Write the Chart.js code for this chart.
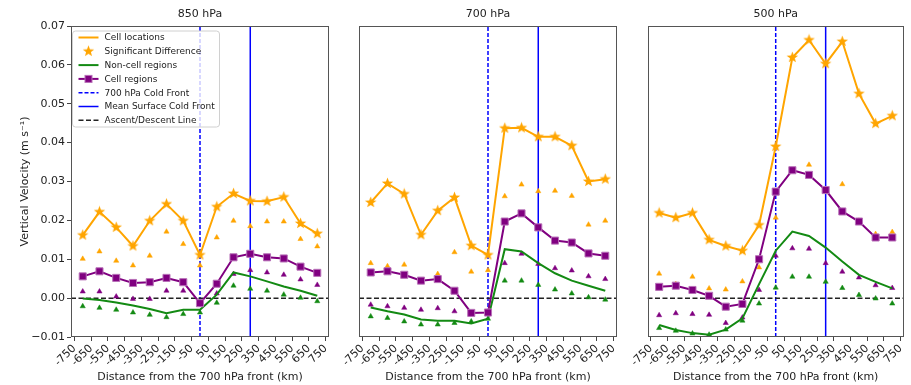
<!DOCTYPE html>
<html>
<head>
<meta charset="utf-8">
<script src="https://cdn.jsdelivr.net/npm/chart.js@4.4.1/dist/chart.umd.min.js"></script>
<style>
  body { margin: 0; background: #fff; }
  #wrap { position: relative; width: 911px; height: 385px; }
  #wrap canvas { position: absolute; left: 0; top: 0; }
</style>
</head>
<body>
<div id="wrap">
  <canvas id="p850" width="911" height="385"></canvas>
  <canvas id="p700" width="911" height="385"></canvas>
  <canvas id="p500" width="911" height="385"></canvas>
</div>
<script>
// Bin centres (km from the 700 hPa front)
const distances = [-700, -600, -500, -400, -300, -200, -100, 0, 100, 200, 300, 400, 500, 600, 700];
const xTicks = [-750, -650, -550, -450, -350, -250, -150, -50, 50, 150, 250, 350, 450, 550, 650, 750];
const yTicks = [-0.01, 0.00, 0.01, 0.02, 0.03, 0.04, 0.05, 0.06, 0.07];
const xMin = -770, xMax = 770;
const yMin = -0.01, yMax = 0.07;

// Reference lines
const coldFront700 = 0;
const surfaceFront = 300;
const ascentLevel = 0;

// 850 hPa
const cell850 = [0.0162, 0.0222, 0.0182, 0.0134, 0.0199, 0.0242, 0.0199, 0.0111, 0.0235, 0.0269, 0.0250, 0.0249, 0.0260, 0.0192, 0.0166];
const cellTri850 = [0.0101, 0.0120, 0.0096, 0.0084, 0.0109, 0.0171, 0.0139, 0.0084, 0.0156, 0.0199, 0.0185, 0.0197, 0.0197, 0.0152, 0.0133];
const region850 = [0.0056, 0.0069, 0.0052, 0.0039, 0.0041, 0.0052, 0.0041, -0.0013, 0.0037, 0.0105, 0.0114, 0.0105, 0.0102, 0.0081, 0.0065];
const regionTri850 = [0.0017, 0.0017, 0.0004, -0.0002, -0.0002, 0.0019, 0.0019, -0.0010, 0.0012, 0.0062, 0.0072, 0.0066, 0.0060, 0.0048, 0.0034];
const nonCell850 = [-0.0001, -0.0005, -0.0011, -0.0019, -0.0028, -0.0039, -0.0030, -0.0030, 0.0009, 0.0066, 0.0056, 0.0043, 0.0030, 0.0019, 0.0006];
const nonCellTri850 = [-0.0021, -0.0025, -0.0030, -0.0037, -0.0043, -0.0049, -0.0041, -0.0037, -0.0012, 0.0032, 0.0024, 0.0019, 0.0009, 0.0001, -0.0008];

// 700 hPa
const cell700 = [0.0246, 0.0295, 0.0268, 0.0163, 0.0225, 0.0259, 0.0135, 0.0111, 0.0437, 0.0438, 0.0415, 0.0415, 0.0392, 0.0300, 0.0306];
const cellTri700 = [0.0090, 0.0082, 0.0086, 0.0045, 0.0062, 0.0118, 0.0068, 0.0072, 0.0262, 0.0292, 0.0275, 0.0276, 0.0263, 0.0189, 0.0199];
const region700 = [0.0066, 0.0069, 0.0060, 0.0045, 0.0049, 0.0019, -0.0038, -0.0037, 0.0197, 0.0218, 0.0182, 0.0148, 0.0143, 0.0115, 0.0109];
const regionTri700 = [-0.0017, -0.0021, -0.0025, -0.0030, -0.0026, -0.0034, -0.0040, -0.0040, 0.0090, 0.0114, 0.0088, 0.0077, 0.0071, 0.0056, 0.0049];
const nonCell700 = [-0.0024, -0.0034, -0.0042, -0.0055, -0.0058, -0.0058, -0.0065, -0.0053, 0.0126, 0.0120, 0.0090, 0.0064, 0.0045, 0.0032, 0.0019];
const nonCellTri700 = [-0.0047, -0.0051, -0.0060, -0.0068, -0.0068, -0.0064, -0.0060, -0.0053, 0.0045, 0.0045, 0.0034, 0.0022, 0.0012, 0.0002, -0.0004];

// 500 hPa
const cell500 = [0.0219, 0.0207, 0.0219, 0.0150, 0.0134, 0.0122, 0.0188, 0.0390, 0.0619, 0.0664, 0.0603, 0.0660, 0.0526, 0.0449, 0.0469];
const cellTri500 = [0.0063, 0.0036, 0.0055, 0.0025, 0.0022, 0.0043, 0.0079, 0.0207, 0.0327, 0.0343, 0.0280, 0.0293, 0.0199, 0.0165, 0.0170];
const region500 = [0.0029, 0.0032, 0.0021, 0.0006, -0.0022, -0.0015, 0.0100, 0.0274, 0.0329, 0.0317, 0.0278, 0.0223, 0.0197, 0.0156, 0.0156];
const regionTri500 = [-0.0044, -0.0039, -0.0041, -0.0043, -0.0064, -0.0050, 0.0021, 0.0109, 0.0128, 0.0127, 0.0090, 0.0068, 0.0053, 0.0033, 0.0026];
const nonCell500 = [-0.0069, -0.0082, -0.0090, -0.0094, -0.0081, -0.0052, 0.0036, 0.0122, 0.0171, 0.0160, 0.0130, 0.0094, 0.0060, 0.0042, 0.0025];
const nonCellTri500 = [-0.0077, -0.0084, -0.0091, -0.0094, -0.0081, -0.0058, -0.0014, 0.0027, 0.0055, 0.0055, 0.0042, 0.0026, 0.0008, -0.0001, -0.0014];

const ORANGE = '#ffa500';
const GREEN = '#138a13';
const PURPLE = '#800080';
const BLUE = '#0000ff';

Chart.defaults.font.family = 'DejaVu Sans';
Chart.defaults.font.size = 11;
Chart.defaults.color = '#222';

// filled 5-point star like matplotlib '*'
function makeStar(size, color) {
    const c = document.createElement('canvas');
    c.width = size; c.height = size;
    const g = c.getContext('2d');
    const cx = size / 2, cy = size / 2, ro = size / 2 - 0.5, ri = ro * 0.42;
    g.beginPath();
    for (let i = 0; i < 10; i++) {
        const r = i % 2 === 0 ? ro : ri;
        const a = -Math.PI / 2 + i * Math.PI / 5;
        const px = cx + r * Math.cos(a), py = cy + r * Math.sin(a);
        if (i === 0) g.moveTo(px, py); else g.lineTo(px, py);
    }
    g.closePath();
    g.fillStyle = color;
    g.fill();
    return c;
}
const starImg = makeStar(13, ORANGE);

const pts = (ys) => distances.map((x, i) => ({ x: x, y: ys[i] }));

const boxPlugin = {
    id: 'box',
    afterDatasetsDraw(chart) {
        const { ctx, chartArea: a } = chart;
        ctx.save();
        ctx.strokeStyle = '#555';
        ctx.lineWidth = 1;
        ctx.strokeRect(Math.round(a.left) + 0.5, Math.round(a.top) + 0.5, Math.round(a.right - a.left) - 1, Math.round(a.bottom - a.top) - 1);
        ctx.restore();
    }
};

const titlePlugin = {
    id: 'panelTitle',
    afterDraw(chart, args, opts) {
        const { ctx, chartArea: a } = chart;
        ctx.save();
        ctx.font = '11px "DejaVu Sans"';
        ctx.fillStyle = '#222';
        ctx.textAlign = 'center';
        ctx.textBaseline = 'middle';
        ctx.fillText(opts.text, (a.left + a.right) / 2, 14);
        ctx.restore();
    }
};

// legend drawn inside the first panel, upper left
const legendPlugin = {
    id: 'innerLegend',
    afterDraw(chart, args, opts) {
        if (!opts.show) return;
        const { ctx, chartArea: a } = chart;
        const x0 = a.left + 1.5, y0 = a.top + 5, w = 147, h = 96;
        ctx.save();
        ctx.beginPath();
        ctx.roundRect(x0, y0, w, h, 3);
        ctx.fillStyle = 'rgba(255,255,255,0.8)';
        ctx.fill();
        ctx.strokeStyle = '#d0d0d0';
        ctx.lineWidth = 1;
        ctx.stroke();
        ctx.font = '9px "DejaVu Sans"';
        ctx.textBaseline = 'middle';
        const byLabel = {};
        chart.data.datasets.forEach(d => { byLabel[d.label] = d; });
        opts.labels.forEach((label, i) => {
            const d = byLabel[label];
            const y = y0 + 6.5 + i * 13.8;
            const hx0 = x0 + 6, hx1 = x0 + 26;
            if (d.showLine === false) {
                ctx.drawImage(d.pointStyle, (hx0 + hx1) / 2 - d.pointStyle.width / 2, y - d.pointStyle.height / 2);
            } else {
                ctx.beginPath();
                ctx.strokeStyle = d.borderColor;
                ctx.lineWidth = d.borderWidth;
                ctx.setLineDash(d.borderDash || []);
                ctx.moveTo(hx0, y);
                ctx.lineTo(hx1, y);
                ctx.stroke();
                ctx.setLineDash([]);
                if (d.pointStyle === 'rect') {
                    ctx.fillStyle = d.pointBackgroundColor;
                    ctx.strokeStyle = d.pointBorderColor;
                    ctx.lineWidth = 1;
                    ctx.fillRect((hx0 + hx1) / 2 - 3.5, y - 3.5, 7, 7);
                    ctx.strokeRect((hx0 + hx1) / 2 - 3.5, y - 3.5, 7, 7);
                }
            }
            ctx.fillStyle = '#222';
            ctx.fillText(label, x0 + 32, y + 0.5);
        });
        ctx.restore();
    }
};

const panels = [
    { id: 'p850', title: '850 hPa', left: 0, right: 582, cell: cell850, cellTri: cellTri850, region: region850, regionTri: regionTri850, nonCell: nonCell850, nonCellTri: nonCellTri850 },
    { id: 'p700', title: '700 hPa', left: 359, right: 294, cell: cell700, cellTri: cellTri700, region: region700, regionTri: regionTri700, nonCell: nonCell700, nonCellTri: nonCellTri700 },
    { id: 'p500', title: '500 hPa', left: 647.5, right: 5.5, cell: cell500, cellTri: cellTri500, region: region500, regionTri: regionTri500, nonCell: nonCell500, nonCellTri: nonCellTri500 }
];

function triangles(ys, color) {
    return { label: '', data: pts(ys), showLine: false, pointStyle: 'triangle', pointRadius: 3,
             pointBackgroundColor: color, pointBorderColor: color, pointBorderWidth: 0.5, order: 8 };
}

function makePanel(p, idx) {
    const datasets = [
        { label: 'Cell locations', data: pts(p.cell), borderColor: ORANGE, borderWidth: 2, pointRadius: 0, order: 4 },
        { label: 'Significant Difference', data: pts(p.cell), showLine: false, pointStyle: starImg, pointRadius: 5, order: 3 },
        { label: 'Non-cell regions', data: pts(p.nonCell), borderColor: GREEN, borderWidth: 2, pointRadius: 0, order: 6 },
        { label: 'Cell regions', data: pts(p.region), borderColor: PURPLE, borderWidth: 2, pointStyle: 'rect', pointRadius: 5,
          pointBackgroundColor: PURPLE, pointBorderColor: '#b870b8', pointBorderWidth: 1, order: 5 },
        { label: '700 hPa Cold Front', data: [{ x: coldFront700, y: yMin }, { x: coldFront700, y: yMax }],
          borderColor: BLUE, borderWidth: 1.5, borderDash: [4, 2], pointRadius: 0, order: 10 },
        { label: 'Mean Surface Cold Front', data: [{ x: surfaceFront, y: yMin }, { x: surfaceFront, y: yMax }],
          borderColor: BLUE, borderWidth: 1.5, pointRadius: 0, order: 10 },
        { label: 'Ascent/Descent Line', data: [{ x: xMin, y: ascentLevel }, { x: xMax, y: ascentLevel }],
          borderColor: '#222', borderWidth: 1.5, borderDash: [5, 2.5], pointRadius: 0, order: 9 },
        triangles(p.cellTri, ORANGE),
        triangles(p.regionTri, PURPLE),
        triangles(p.nonCellTri, GREEN)
    ];

    const showY = idx === 0;
    new Chart(document.getElementById(p.id), {
        type: 'line',
        data: { datasets: datasets },
        plugins: [boxPlugin, titlePlugin, legendPlugin],
        options: {
            responsive: false,
            animation: false,
            events: [],
            layout: { padding: { left: p.left, right: p.right, top: 26, bottom: 0 } },
            elements: { line: { tension: 0 } },
            scales: {
                x: {
                    type: 'linear', min: xMin, max: xMax,
                    afterBuildTicks: (s) => { s.ticks = xTicks.map(v => ({ value: v })); },
                    afterFit: (s) => { s.height = 48; },
                    ticks: { autoSkip: false, minRotation: 45, maxRotation: 45, padding: 1, color: '#222',
                             callback: (v) => String(v) },
                    grid: { drawOnChartArea: false, tickLength: 4, color: '#444' },
                    border: { display: false },
                    title: { display: true, text: 'Distance from the 700 hPa front (km)', color: '#222',
                             padding: { top: 0, bottom: 1 } }
                },
                y: {
                    type: 'linear', min: yMin, max: yMax, display: showY,
                    afterBuildTicks: (s) => { s.ticks = yTicks.map(v => ({ value: v })); },
                    afterFit: (s) => { s.width = showY ? 71 : 0; },
                    ticks: { padding: 2, color: '#222', callback: (v) => v.toFixed(2).replace('-', '\u2212') },
                    grid: { drawOnChartArea: false, tickLength: 4, color: '#444' },
                    border: { display: false },
                    title: { display: true, text: 'Vertical Velocity (m s\u207b\u00b9)', color: '#222',
                             padding: { top: 19, bottom: 0 } }
                }
            },
            plugins: {
                legend: { display: false },
                tooltip: { enabled: false },
                panelTitle: { text: p.title },
                innerLegend: {
                    show: idx === 0,
                    labels: ['Cell locations', 'Significant Difference', 'Non-cell regions', 'Cell regions',
                             '700 hPa Cold Front', 'Mean Surface Cold Front', 'Ascent/Descent Line']
                }
            }
        }
    });
}

panels.forEach(makePanel);
</script>
</body>
</html>
